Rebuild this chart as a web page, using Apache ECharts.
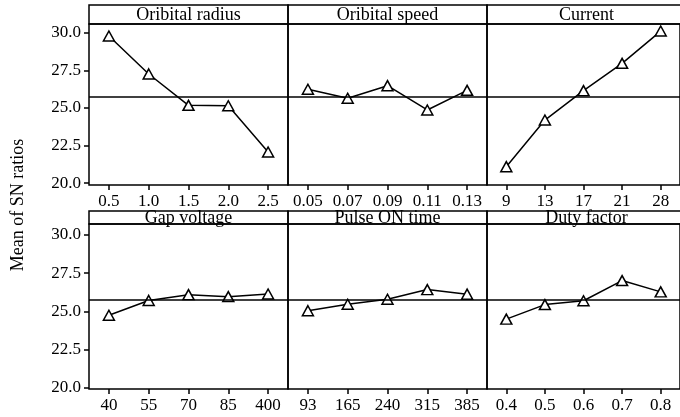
<!DOCTYPE html>
<html>
<head>
<meta charset="utf-8">
<script src="https://cdn.jsdelivr.net/npm/echarts@6/dist/echarts.min.js"></script>
<style>
  html, body { margin: 0; padding: 0; background: #fff; }
  #main { width: 680px; height: 417px; }
</style>
</head>
<body>
<div id="main"></div>
<script>
// factor names, levels and mean SN ratios
var factorNames = ['Oribital radius', 'Oribital speed', 'Current', 'Gap voltage', 'Pulse ON time', 'Duty factor'];
var levels = [
  ['0.5', '1.0', '1.5', '2.0', '2.5'],
  ['0.05', '0.07', '0.09', '0.11', '0.13'],
  ['9', '13', '17', '21', '28'],
  ['40', '55', '70', '85', '400'],
  ['93', '165', '240', '315', '385'],
  ['0.4', '0.5', '0.6', '0.7', '0.8']
];
var orbitalRadius = [29.8, 27.27, 25.18, 25.15, 22.07];
var orbitalSpeed = [26.25, 25.65, 26.49, 24.87, 26.18];
var current = [21.09, 24.2, 26.16, 27.98, 30.13];
var gapVoltage = [24.75, 25.72, 26.1, 25.97, 26.14];
var pulseOnTime = [25.05, 25.47, 25.8, 26.43, 26.13];
var dutyFactor = [24.5, 25.45, 25.7, 27.02, 26.28];
var grandMean = 25.76;
var yTicks = [20.0, 22.5, 25.0, 27.5, 30.0];

var seriesData = [orbitalRadius, orbitalSpeed, current, gapVoltage, pulseOnTime, dutyFactor];

// panel layout
var colLeft = [89, 288, 487];
var colWidth = 199;
var rowTop = [24, 224];
var rowHeight = [161, 165];
var rowMin = [19.87, 19.93];
var rowMax = [30.6, 30.72];
var stripTop = [5, 211];

var font = 'Liberation Serif';
var grids = [], xAxes = [], yAxes = [], series = [], graphics = [];

for (var i = 0; i < 6; i++) {
  var r = Math.floor(i / 3), c = i % 3;
  grids.push({
    left: colLeft[c], top: rowTop[r], width: colWidth, height: rowHeight[r],
    show: true, borderColor: '#000', borderWidth: 1.5, backgroundColor: 'transparent'
  });
  xAxes.push({
    type: 'category', gridIndex: i, data: levels[i], boundaryGap: true,
    axisLine: { show: false },
    axisTick: { show: true, alignWithLabel: true, length: 5, lineStyle: { color: '#000', width: 1.5 } },
    axisLabel: { color: '#000', fontFamily: font, fontSize: 17, margin: 8, interval: 0 },
    splitLine: { show: false }
  });
  yAxes.push({
    type: 'value', gridIndex: i, min: rowMin[r], max: rowMax[r],
    axisLine: { show: false },
    axisTick: { show: c === 0, length: 5, customValues: yTicks, lineStyle: { color: '#000', width: 1.5 } },
    axisLabel: {
      show: c === 0, color: '#000', fontFamily: font, fontSize: 17, margin: 8,
      customValues: yTicks,
      formatter: function (v) { return v.toFixed(1); }
    },
    splitLine: { show: false }
  });
  series.push({
    type: 'line', xAxisIndex: i, yAxisIndex: i, data: seriesData[i],
    symbol: 'triangle', symbolSize: [11, 10], showSymbol: true,
    lineStyle: { color: '#000', width: 1.5 },
    itemStyle: { color: '#fff', borderColor: '#000', borderWidth: 1.5 },
    z: 3,
    markLine: {
      silent: true, symbol: ['none', 'none'], label: { show: false },
      lineStyle: { color: '#000', width: 1.5, type: 'solid' },
      data: [{ yAxis: grandMean }]
    }
  });
  graphics.push({
    type: 'rect',
    shape: { x: colLeft[c], y: stripTop[r], width: colWidth, height: rowTop[r] - stripTop[r] },
    style: { fill: 'transparent', stroke: '#000', lineWidth: 1.5 }
  });
  graphics.push({
    type: 'text',
    x: colLeft[c] + colWidth / 2, y: (stripTop[r] + rowTop[r]) / 2 + 1,
    style: {
      text: factorNames[i], fill: '#000', font: '18px "' + font + '"',
      textAlign: 'center', textVerticalAlign: 'middle'
    }
  });
}

graphics.push({
  type: 'text', x: 18, y: 205, rotation: Math.PI / 2,
  style: {
    text: 'Mean of SN ratios', fill: '#000', font: '18px "' + font + '"',
    textAlign: 'center', textVerticalAlign: 'middle'
  }
});

var chart = echarts.init(document.getElementById('main'));
chart.setOption({
  animation: false,
  grid: grids,
  xAxis: xAxes,
  yAxis: yAxes,
  series: series,
  graphic: graphics
});
</script>
</body>
</html>
